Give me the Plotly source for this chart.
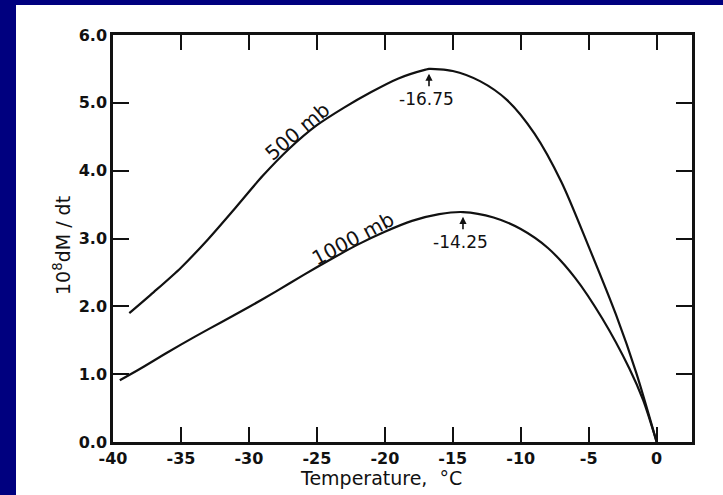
import plotly.graph_objects as go

# ---- data ----
temp_500 = [-38.8, -37, -35, -33, -31, -29, -27, -25, -23, -21, -19, -17, -16.75, -15, -13, -11, -9, -7, -5, -3, -1.5, 0]
rate_500 = [1.90, 2.21, 2.57, 2.99, 3.45, 3.92, 4.33, 4.67, 4.93, 5.16, 5.36, 5.49, 5.50, 5.47, 5.32, 5.04, 4.55, 3.83, 2.88, 1.88, 1.02, 0.0]

temp_1000 = [-39.5, -38, -36, -34, -32, -30, -28, -26, -24, -22, -20, -18, -16, -14.25, -12, -10, -8, -6, -4, -2, -1, 0]
rate_1000 = [0.91, 1.08, 1.32, 1.55, 1.77, 1.99, 2.22, 2.46, 2.69, 2.91, 3.10, 3.26, 3.36, 3.39, 3.31, 3.14, 2.86, 2.42, 1.82, 1.08, 0.62, 0.0]

curve_labels = ["500 mb", "1000 mb"]
peak_temps = [-16.75, -14.25]
peak_labels = ["-16.75", "-14.25"]
peak_rates = [5.50, 3.39]

x_ticks = [-40, -35, -30, -25, -20, -15, -10, -5, 0]
x_ticklabels = ["-40", "-35", "-30", "-25", "-20", "-15", "-10", "-5", "0"]
y_ticks = [0, 1, 2, 3, 4, 5, 6]
y_ticklabels = ["0.0", "1.0", "2.0", "3.0", "4.0", "5.0", "6.0"]

W, H = 723, 495
# plot frame in page pixels: x 113..692, y 35..442
FL, FR, FT, FB = 113, 692, 35, 442
ML, MR, MT, MB = FL, W - FR, FT, H - FB
PW, PH = FR - FL, FB - FT
SHEET_X, SHEET_Y = 16, 5   # white sheet starts here, navy slide bands left and top

def px_x(px):
    return (px - FL) / PW

def px_y(py):
    return (FB - py) / PH

FONT = "DejaVu Sans"
BLACK = "#111111"
NAVY = "#00007f"

fig = go.Figure()
for xs, ys in ((temp_500, rate_500), (temp_1000, rate_1000)):
    fig.add_trace(go.Scatter(x=xs, y=ys, mode="lines",
                             line=dict(color=BLACK, width=2.2, shape="spline", smoothing=0.8),
                             showlegend=False, hoverinfo="skip"))

annotations = []
annotations.append(dict(x=-26.4, y=4.58, xref="x", yref="y", text=curve_labels[0], showarrow=False,
                        textangle=-40, xanchor="center", yanchor="middle",
                        font=dict(family=FONT, size=20, color=BLACK)))
annotations.append(dict(x=-22.4, y=3.00, xref="x", yref="y", text=curve_labels[1], showarrow=False,
                        textangle=-28, xanchor="center", yanchor="middle",
                        font=dict(family=FONT, size=20, color=BLACK)))
for t, lab, r in zip(peak_temps, peak_labels, peak_rates):
    annotations.append(dict(x=t, y=r - 0.07, xref="x", yref="y", text="", showarrow=True,
                            ax=0, ay=14, arrowhead=2, arrowsize=0.9, arrowwidth=1.6,
                            arrowcolor=BLACK, standoff=0, startstandoff=0))
    annotations.append(dict(x=t - 0.2, y=r - 0.44, xref="x", yref="y", text=lab, showarrow=False,
                            xanchor="center", yanchor="middle",
                            font=dict(family=FONT, size=17, color=BLACK)))
annotations.append(dict(x=px_x(381), y=px_y(478), xref="paper", yref="paper",
                        text="Temperature,  \u00b0C", showarrow=False,
                        xanchor="center", yanchor="middle",
                        font=dict(family=FONT, size=19, color=BLACK)))
annotations.append(dict(x=px_x(62), y=px_y(246), xref="paper", yref="paper",
                        text="10<sup>8</sup>dM / dt", showarrow=False, textangle=-90,
                        xanchor="center", yanchor="middle",
                        font=dict(family=FONT, size=19, color=BLACK)))

band = dict(type="rect", xref="paper", yref="paper", fillcolor=NAVY,
            line=dict(width=0), layer="below")
fig.update_layout(
    width=W, height=H,
    margin=dict(l=ML, r=MR, t=MT, b=MB, pad=0),
    paper_bgcolor="white",
    plot_bgcolor="white",
    showlegend=False,
    annotations=annotations,
    shapes=[
        dict(band, x0=px_x(-2), x1=px_x(SHEET_X), y0=px_y(H + 2), y1=px_y(-2)),
        dict(band, x0=px_x(-2), x1=px_x(W + 2), y0=px_y(SHEET_Y), y1=px_y(-2)),
    ],
)
fig.update_xaxes(range=[-40, 2.6], tickvals=x_ticks, ticktext=x_ticklabels,
                 ticks="inside", ticklen=15, tickwidth=2, tickcolor=BLACK,
                 showline=True, linewidth=2.5, linecolor=BLACK, mirror="ticks",
                 showgrid=False, zeroline=False,
                 tickfont=dict(family=FONT, size=16, color=BLACK, weight="bold"))
fig.update_yaxes(range=[0, 6], tickvals=y_ticks, ticktext=y_ticklabels,
                 ticks="inside", ticklen=16, tickwidth=2, tickcolor=BLACK,
                 showline=True, linewidth=2.5, linecolor=BLACK, mirror="ticks",
                 showgrid=False, zeroline=False,
                 tickfont=dict(family=FONT, size=16, color=BLACK, weight="bold"))

page_css = ("document.body.style.margin='0px';"
            "document.documentElement.style.overflow='hidden';"
            "document.body.style.overflow='hidden';")
fig.write_html("out.html", config={"displayModeBar": False}, post_script=page_css)
